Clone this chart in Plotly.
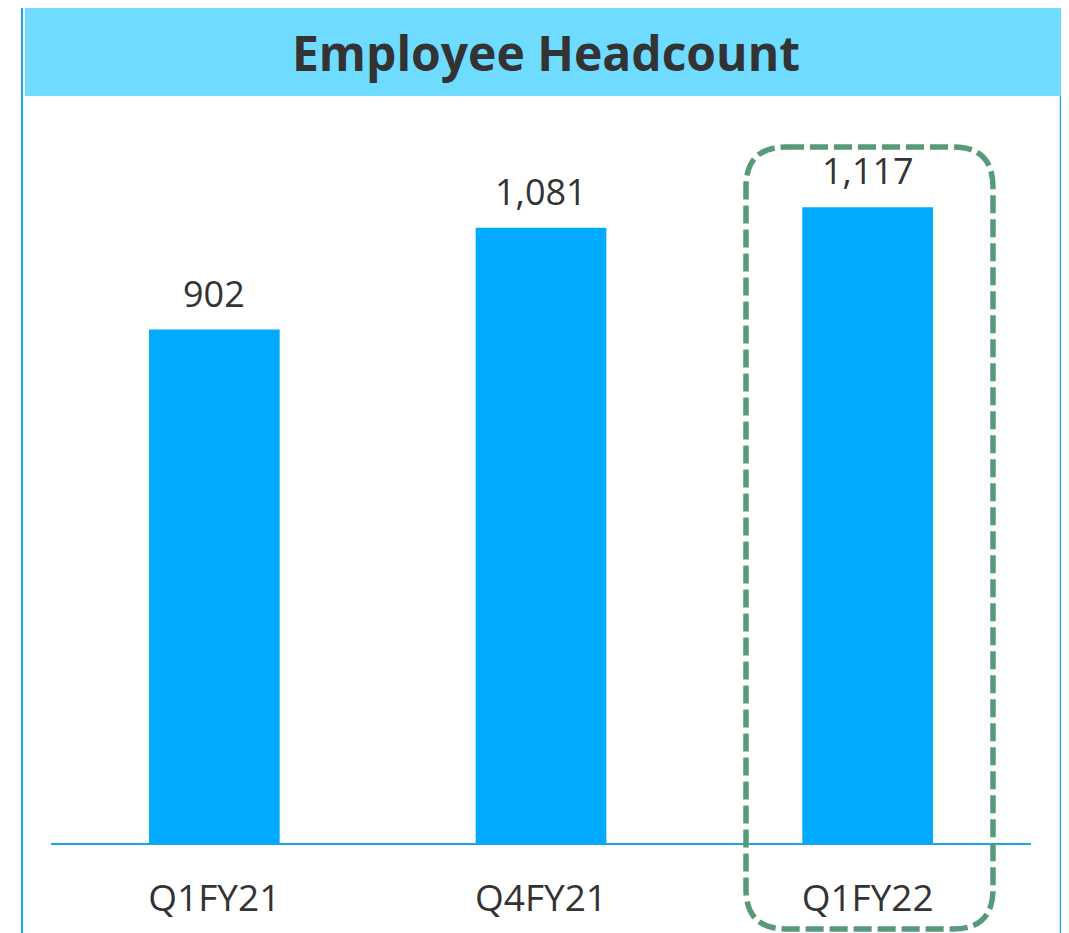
import plotly.graph_objects as go

categories = ["Q1FY21", "Q4FY21", "Q1FY22"]
headcount = [902, 1081, 1117]
value_labels = ["902", "1,081", "1,117"]
title_text = "Employee Headcount"

# page body adds an 8px offset; work in screen pixels and subtract it
OFF = 8
SW, SH = 1069, 933
W, H = SW - OFF, SH - OFF
L_PIX, R_PIX, T_PIX, B_PIX = 51, 1031, 103, 843  # plot area in screen pixels
ML = L_PIX - OFF
MR = W - (R_PIX - OFF)
MT = T_PIX - OFF
MB = H - (B_PIX - OFF)
PW, PH = W - ML - MR, H - MT - MB

def px(x):
    return (x - OFF - ML) / PW

def py(y):
    return (H - MB - (y - OFF)) / PH

fig = go.Figure()
fig.add_trace(go.Bar(
    x=categories, y=headcount,
    marker=dict(color="#00AAFF", line=dict(width=0)),
    hoverinfo="skip",
))

for c, v, t in zip(categories, headcount, value_labels):
    fig.add_annotation(x=c, y=v, text=t, showarrow=False, yanchor="bottom",
                       yshift=10, font=dict(family="Open Sans", size=36, color="#333333"))

shapes = []
shapes.append(dict(type="rect", xref="paper", yref="paper",
                   x0=px(25), x1=px(1063), y0=py(96), y1=py(6),
                   fillcolor="#6EDBFF", line=dict(width=0), layer="below"))
shapes.append(dict(type="line", xref="paper", yref="paper",
                   x0=px(22), x1=px(22), y0=py(7), y1=py(940),
                   line=dict(color="#14A6F4", width=2)))
shapes.append(dict(type="line", xref="paper", yref="paper",
                   x0=px(1061), x1=px(1061), y0=py(96), y1=py(940),
                   line=dict(color="#14A6F4", width=2.5)))
x0, x1, y0, y1, r = 746, 993, 147, 929, 40
pts = [
    ("M", (x0 + r, y0)), ("L", (x1 - r, y0)), ("Q", (x1, y0), (x1, y0 + r)),
    ("L", (x1, y1 - r)), ("Q", (x1, y1), (x1 - r, y1)),
    ("L", (x0 + r, y1)), ("Q", (x0, y1), (x0, y1 - r)),
    ("L", (x0, y0 + r)), ("Q", (x0, y0), (x0 + r, y0)),
]
path = ""
for item in pts:
    coords = " ".join(f"{px(a):.5f},{py(b):.5f}" for a, b in item[1:])
    path += f"{item[0]} {coords} "
path += "Z"
shapes.append(dict(type="path", xref="paper", yref="paper", path=path,
                   line=dict(color="#579A79", width=5.5, dash="18px,6px")))

fig.update_layout(
    width=W, height=H,
    margin=dict(l=ML, r=MR, t=MT, b=MB),
    paper_bgcolor="white", plot_bgcolor="white",
    showlegend=False,
    bargap=0.6,
    shapes=shapes,
    title=dict(text=f"<b>{title_text}</b>", x=(546 - OFF) / W, xanchor="center",
               xref="container", y=1 - (54 - OFF) / H, yref="container", yanchor="middle",
               font=dict(family="Open Sans", size=48, color="#333333")),
    xaxis=dict(showgrid=False, zeroline=False, showline=True, linecolor="#1BA4EE",
               linewidth=2, ticks="", ticklabelstandoff=22,
               tickfont=dict(family="Open Sans", size=37, color="#333333")),
    yaxis=dict(range=[0, 1300], visible=False, showgrid=False, zeroline=False),
)

fig.write_html("out.html")
